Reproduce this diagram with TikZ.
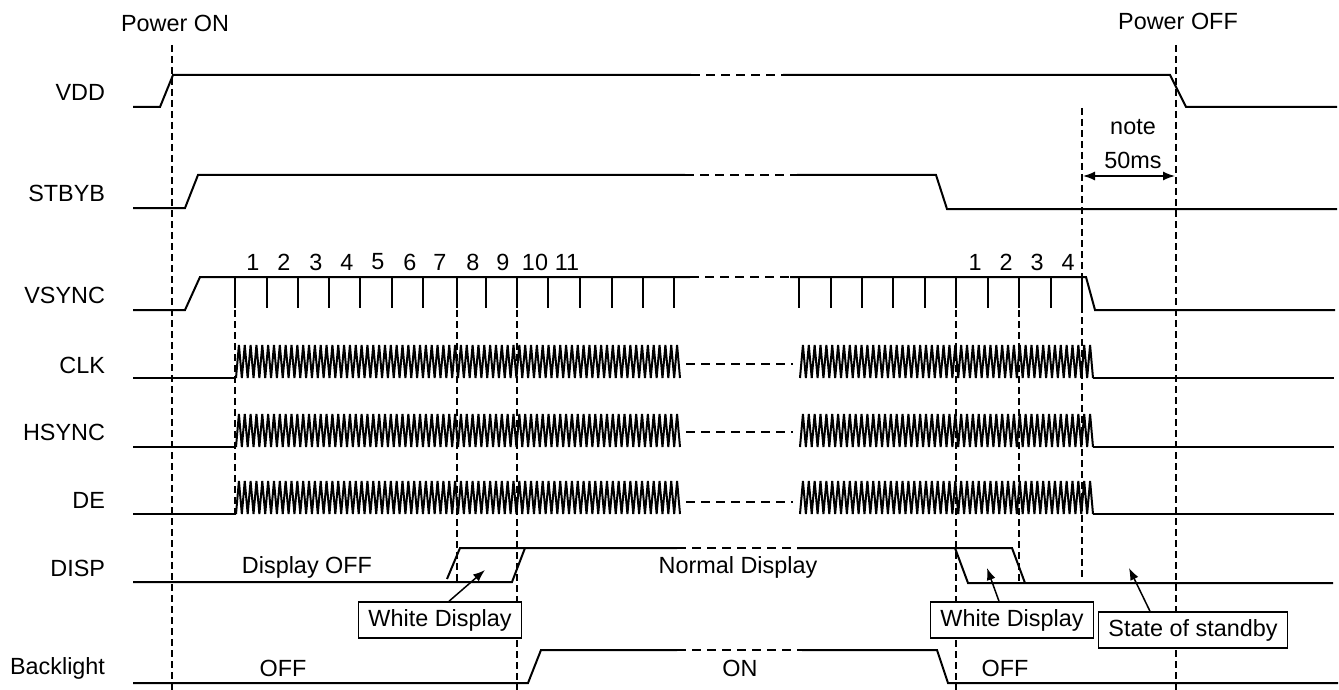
\documentclass[tikz,border=0pt]{standalone}
\usepackage{fontspec}
\setmainfont{Liberation Sans}
\usetikzlibrary{arrows.meta}
% one clock burst: start x, end x, low y, periods
\newcommand{\clkrun}[4]{%
	\pgfmathsetmacro{\halfp}{(#2-#1)/(2*#4)}
	\draw (#1,#3) \foreach \k in {1,...,#4}{ -- ++(\halfp,-33) -- ++(\halfp,33) };
}
\begin{document}
\begin{tikzpicture}[x=0.5pt,y=-0.5pt,line width=1pt,
		gap/.style={line width=0.9pt,dash pattern=on 4.5pt off 3pt},
		guide/.style={line width=0.8pt,dash pattern=on 3.5pt off 2pt},
		txt/.style={font=\fontsize{11.7}{13}\selectfont,inner sep=0pt},
		lbl/.style={txt,anchor=east},
		box/.style={txt,draw,fill=white,line width=0.75pt,minimum height=18pt,inner xsep=5pt},
		arr/.style={line width=0.75pt,-{Latex[length=6pt,width=4.5pt]}}]
	\useasboundingbox (0,0) rectangle (1339,690);
	%signal names
	\node[lbl] (vdd) at (106,92) {VDD};
	\node[lbl] (stbyb) at (106,193) {STBYB};
	\node[lbl] (vsync) at (106,295) {VSYNC};
	\node[lbl] (clk) at (106,365) {CLK};
	\node[lbl] (hsync) at (106,432) {HSYNC};
	\node[lbl] (de) at (106,500) {DE};
	\node[lbl] (disp) at (106,568) {DISP};
	\node[lbl] (bl) at (106,668) {Backlight};
	%power marks
	\node[txt] (pon) at (175,23) {Power ON};
	\node[txt] (poff) at (1178,21) {Power OFF};
	\draw[guide] (172,45) -- (172,690);
	\draw[guide] (1176,45) -- (1176,690);
	%VDD
	\draw (133,107) -- (160,107) -- (173,75) -- (691,75);
	\draw[gap] (691,75) -- (783,75);
	\draw (783,75) -- (1170,75) -- (1186,107) -- (1337,107);
	%STBYB
	\draw (133,208) -- (185,208) -- (198,175) -- (685,175);
	\draw[gap] (685,175) -- (797,175);
	\draw (797,175) -- (936,175) -- (947,209) -- (1337,209);
	%note 50ms
	\draw[guide] (1082,108) -- (1082,577);
	\node[txt] (note) at (1133,127) {note};
	\node[txt] (ms) at (1133,160) {50ms};
	\coordinate (msl) at (1083,176);
	\coordinate (msr) at (1175,176);
	\draw[line width=0.75pt,{Latex[length=6pt,width=4.5pt]}-{Latex[length=6pt,width=4.5pt]}] (msl) -- (msr);
	%VSYNC
	\draw (133,310) -- (185,310) -- (200,277) -- (690,277);
	\draw[gap] (690,277) -- (790,277);
	\draw (790,277) -- (1086,277) -- (1095,310) -- (1335,310);
	\foreach \x in {235,267,298,329,360,392,423,457,486,517,548,580,612,643,674,
			799,831,862,893,925,956,988,1019,1051,1082} {
		\draw (\x,277) -- (\x,308);
	}
	\foreach \x/\n in {253/1,284/2,316/3,347/4,378/5,410/6,440/7,473/8,503/9,535/10,567/11,
			975/1,1006/2,1037/3,1068/4} {
		\node[txt] at (\x,262) {\n};
	}
	%CLK, HSYNC, DE
	\foreach \y/\m in {378/364,447/432,514/502} {
		\draw (133,\y) -- (236,\y);
		\clkrun{236}{680}{\y}{76}
		\draw[gap] (686,\m) -- (793,\m);
		\clkrun{800}{1093}{\y}{50}
		\draw (1093,\y) -- (1334,\y);
	}
	%VSYNC guides
	\draw[guide] (235,277) -- (235,514);
	\draw[guide] (457,277) -- (457,582);
	\draw[guide] (517,277) -- (517,690);
	\draw[guide] (956,277) -- (956,690);
	\draw[guide] (1019,277) -- (1019,583);
	%DISP
	\draw (133,582) -- (512,582) -- (525,548);
	\draw (447,579) -- (460,548) -- (677,548);
	\draw[gap] (677,548) -- (797,548);
	\draw (797,548) -- (1012,548) -- (1025,583);
	\draw (955,548) -- (968,583) -- (1333,583);
	\node[txt] (doff) at (307,567) {Display OFF};
	\node[txt] (norm) at (738,567) {Normal Display};
	%Backlight
	\draw (133,683) -- (528,683) -- (541,650) -- (677,650);
	\draw[gap] (677,650) -- (802,650);
	\draw (802,650) -- (937,650) -- (948,683) -- (1338,683);
	\node[txt] (bloff) at (283,668) {OFF};
	\node[txt] (blon) at (740,668) {ON};
	\node[txt] (bloff2) at (1005,668) {OFF};
	%callouts
	\node[box] (wd1) at (440,620) {White Display};
	\node[box] (wd2) at (1012,620) {White Display};
	\node[box] (stby) at (1193,630) {State of standby};
	\coordinate (wd1tip) at (485,570);
	\coordinate (wd2tip) at (987,568);
	\coordinate (stbytip) at (1129,568);
	\draw[arr] ([xshift=4.5pt]wd1.north) -- (wd1tip);
	\draw[arr] ([xshift=-6.5pt]wd2.north) -- (wd2tip);
	\draw[arr] ([xshift=-21.5pt]stby.north) -- (stbytip);
\end{tikzpicture}
\end{document}
